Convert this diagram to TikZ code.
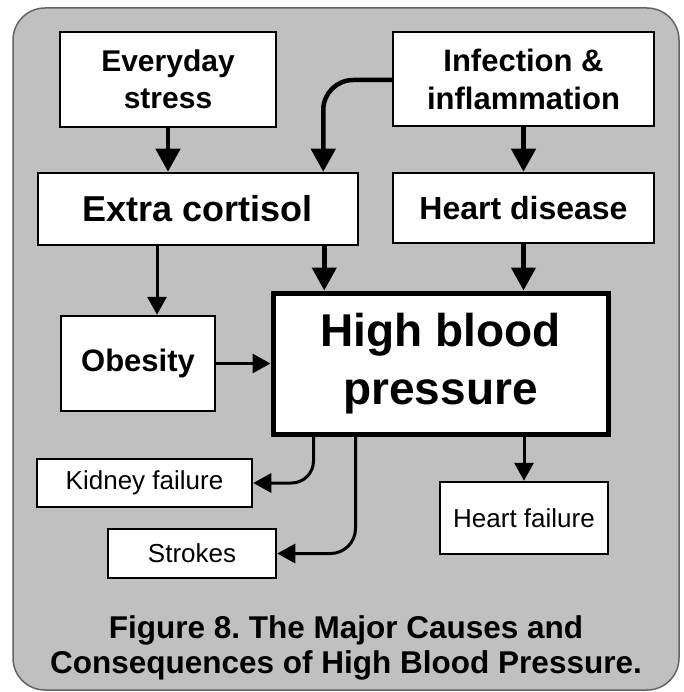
\documentclass[tikz,border=0pt]{standalone}
\usepackage{fontspec}
\setmainfont{Liberation Sans}
\usetikzlibrary{arrows.meta}
\frenchspacing
\definecolor{bggray}{RGB}{192,192,192}
\definecolor{bgline}{RGB}{100,100,100}
\tikzset{
  box/.style={draw=black, fill=white, line width=2.5pt, inner sep=0pt, align=center},
  bigbox/.style={box, line width=5pt},
  thk/.style={line width=4.5pt, -{Triangle[length=23pt,width=24pt]}},
  thn/.style={line width=3pt, -{Triangle[length=18pt,width=19pt]}},
}
\begin{document}
\begin{tikzpicture}[x=1pt,y=-1pt]
\useasboundingbox (0,0) rectangle (683,692);
\draw[fill=bggray, draw=bgline, line width=1.5pt, rounded corners=32pt] (13,8) rectangle (679,690);

\node[box, minimum width=216pt, minimum height=95pt, font=\bfseries\fontsize{30}{37}\selectfont] (es) at (168,79.5) {Everyday\\stress};
\node[box, minimum width=261pt, minimum height=94pt, font=\bfseries\fontsize{31}{38}\selectfont] (inf) at (523.5,79) {Infection \&\\inflammation};
\node[box, minimum width=320pt, minimum height=72pt, font=\bfseries\fontsize{36}{42}\selectfont] (ec) at (198,209) {Extra cortisol};
\node[box, minimum width=261pt, minimum height=70pt, font=\bfseries\fontsize{32}{38}\selectfont] (hd) at (523.5,208) {Heart disease};
\node[bigbox, minimum width=335pt, minimum height=141pt, font=\bfseries\fontsize{46}{58}\selectfont] (hbp) at (440.5,363.5) {High blood\\pressure};
\node[box, minimum width=154pt, minimum height=95pt, font=\bfseries\fontsize{31}{38}\selectfont] (ob) at (138,363.5) {Obesity};
\node[box, minimum width=215pt, minimum height=48pt, font=\fontsize{26}{31}\selectfont] (kf) at (144.5,483) {Kidney failure};
\node[box, minimum width=168pt, minimum height=49pt, font=\fontsize{26}{31}\selectfont] (st) at (192,553.5) {Strokes};
\node[box, minimum width=168pt, minimum height=72pt, font=\fontsize{26}{31}\selectfont] (hf) at (524,518) {Heart failure};

\node[anchor=base, font=\bfseries\fontsize{31.5}{35}\selectfont] (cap1) at (346,638) {Figure 8. The Major Causes and};
\node[anchor=base, font=\bfseries\fontsize{31.5}{35}\selectfont] (cap2) at (346,673) {Consequences of High Blood Pressure.};

% thick arrows
\draw[thk] (es.south) -- (es.south |- ec.north);
\draw[thk, rounded corners=30pt] ([yshift=-1pt]inf.west) -| ([xshift=-36pt]ec.north east);
\draw[thk] (inf.south) -- (hd.north);
\draw[thk] ([xshift=-35pt]ec.south east) -- ([xshift=-35pt]ec.south east |- hbp.north);
\draw[thk] (hd.south) -- (hd.south |- hbp.north);
% thin arrows
\draw[thn] ([xshift=-41pt]ec.south) -- ([xshift=-41pt]ec.south |- ob.north);
\draw[thn] (ob.east) -- (hbp.west);
\draw[thn, rounded corners=22pt] ([xshift=43pt]hbp.south west) |- (kf.east);
\draw[thn, rounded corners=25pt] ([xshift=85pt]hbp.south west) |- (st.east);
\draw[thn] (hf.north |- hbp.south) -- (hf.north);
\end{tikzpicture}
\end{document}
